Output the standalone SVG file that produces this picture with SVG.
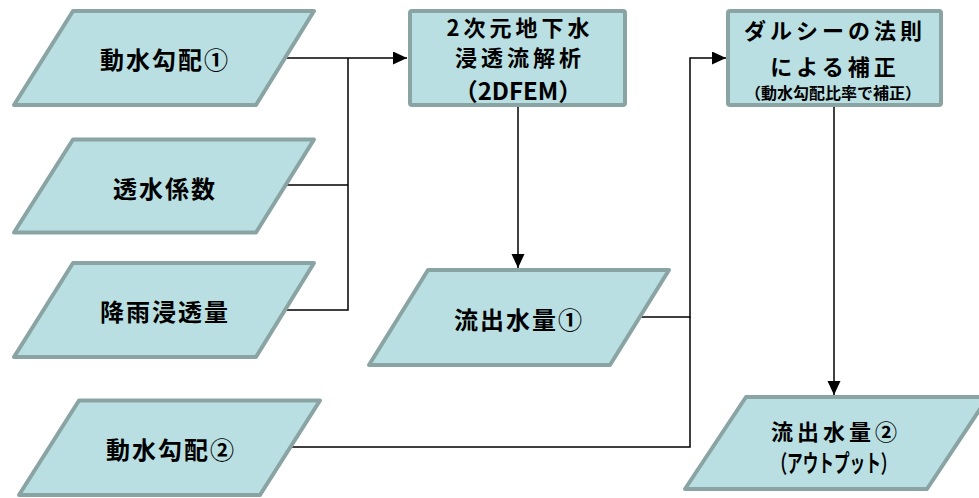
<svg xmlns="http://www.w3.org/2000/svg" width="979" height="498" viewBox="0 0 979 498">
<style>
.shape{fill:#b9dfe2;stroke:#8aa4a4;stroke-width:4;stroke-linejoin:round}
.t{font-family:"Noto Sans CJK JP","Noto Sans",sans-serif;font-weight:700;font-size:24px;fill:#000;text-anchor:middle;letter-spacing:2px}
.m{font-size:22px;letter-spacing:4px}
.s{font-size:16px;letter-spacing:0}
.l{letter-spacing:0}
.c{fill:none;stroke:#000;stroke-width:1.5}
</style>
<defs>
<marker id="arr" markerUnits="userSpaceOnUse" markerWidth="15" markerHeight="14" refX="14" refY="6.5" orient="auto">
<path d="M0,0 L14,6.5 L0,13 z" fill="#000"/>
</marker>
</defs>
<rect width="979" height="498" fill="#fff"/>
<g id="connectors">
<path class="c" d="M285,58 H407" marker-end="url(#arr)"/>
<path class="c" d="M285,185 H348"/>
<path class="c" d="M285,310 H348 V58"/>
<path class="c" d="M518,107 V268" marker-end="url(#arr)"/>
<path class="c" d="M639,317 H690 V58 H726" marker-end="url(#arr)"/>
<path class="c" d="M291,447 H690 V317"/>
<path class="c" d="M834,107 V395" marker-end="url(#arr)"/>
</g>
<g id="n1">
<polygon class="shape" points="73,11 314,11 256,105 14,105"/>
<text class="t" x="165" y="69">動水勾配①</text>
</g>
<g id="n2">
<polygon class="shape" points="73,139.5 314,139.5 256,232.5 14,232.5"/>
<text class="t" x="165" y="197.5">透水係数</text>
</g>
<g id="n3">
<polygon class="shape" points="73,263 314,263 256,357 14,357"/>
<text class="t" x="165" y="320.5">降雨浸透量</text>
</g>
<g id="n4">
<polygon class="shape" points="79,400.5 320,400.5 260,495 19,495"/>
<text class="t" x="171" y="459">動水勾配②</text>
</g>
<g id="n5">
<rect class="shape" x="410" y="11" width="215" height="94" rx="2"/>
<text class="t m" x="520" y="36">2次元地下水</text>
<text class="t m" x="520" y="66">浸透流解析</text>
<text class="t l" x="518" y="100">（2DFEM）</text>
</g>
<g id="n6">
<polygon class="shape" points="428,270 669,270 610,365 369,365"/>
<text class="t" x="519" y="329">流出水量①</text>
</g>
<g id="n7">
<rect class="shape" x="728" y="11" width="213" height="94" rx="2"/>
<text class="t m" x="835" y="39">ダルシーの法則</text>
<text class="t m" x="835" y="75">による補正</text>
<text class="t s" x="833" y="98.5">（動水勾配比率で補正）</text>
</g>
<g id="n8">
<polygon class="shape" points="746,397 988,397 927,489 685,489"/>
<text class="t m" x="836" y="439.5">流出水量②</text>
<text class="t l" x="834" y="472" font-size="21" textLength="125" lengthAdjust="spacingAndGlyphs">（アウトプット）</text>
</g>
</svg>
